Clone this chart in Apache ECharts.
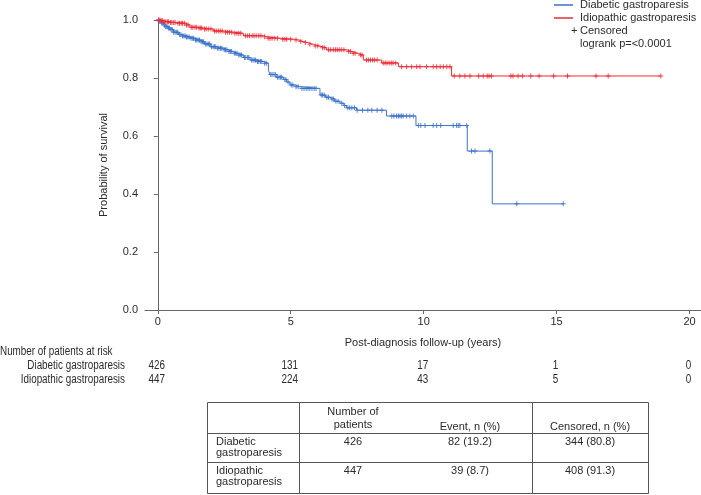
<!DOCTYPE html>
<html><head><meta charset="utf-8">
<script src="https://cdn.jsdelivr.net/npm/echarts@6/dist/echarts.min.js"></script>
<style>html,body{margin:0;padding:0;background:#fff}#c{width:701px;height:495px}</style>
</head><body><div id="c"></div>
<script>
// ---- data ----
const groupNames = ['Diabetic gastroparesis', 'Idiopathic gastroparesis'];
const blueTimes = [0, 0.05, 0.12, 0.21, 0.3, 0.38, 0.46, 0.6, 0.78, 0.9, 1.05, 1.21, 1.4, 1.59, 1.75, 1.97, 2.2, 2.47, 2.65, 2.84, 3.0, 3.22, 3.47, 3.7, 3.97, 4.16, 4.22, 4.45, 4.72, 4.85, 4.97, 5.15, 5.35, 6.10, 6.3, 6.48, 6.65, 6.85, 7.0, 7.1, 7.48, 8.6, 9.71, 11.64, 12.58];
const blueSurv  = [1.0, 0.995, 0.99, 0.983, 0.977, 0.972, 0.966, 0.958, 0.950, 0.945, 0.941, 0.937, 0.931, 0.925, 0.917, 0.908, 0.903, 0.897, 0.891, 0.885, 0.879, 0.871, 0.862, 0.857, 0.851, 0.828, 0.812, 0.803, 0.795, 0.786, 0.776, 0.770, 0.764, 0.741, 0.734, 0.728, 0.720, 0.713, 0.705, 0.697, 0.689, 0.669, 0.636, 0.548, 0.366];
const blueEnd = 15.25;
const blueCensor = [0.03,0.08,0.15,0.19,0.25,0.3,0.35,0.4,0.44,0.5,0.55,0.6,0.65,0.7,0.75,0.82,0.87,0.93,0.98,1.03,1.08,1.13,1.18,1.25,1.3,1.35,1.42,1.47,1.52,1.57,1.63,1.68,1.72,1.8,1.85,1.9,1.95,2.02,2.08,2.13,2.18,2.25,2.3,2.36,2.41,2.5,2.55,2.6,2.68,2.73,2.78,2.88,2.93,2.98,3.05,3.1,3.15,3.26,3.31,3.38,3.42,3.52,3.58,3.63,3.68,3.75,3.8,3.86,3.91,4.02,4.08,4.25,4.3,4.37,4.42,4.5,4.56,4.62,4.66,4.78,4.82,4.9,5.02,5.08,5.2,5.28,5.42,5.5,5.58,5.65,5.72,5.8,5.88,5.95,6.15,6.2,6.26,6.36,6.42,6.55,6.6,6.7,6.78,6.92,7.03,7.15,7.22,7.3,7.4,7.5,7.7,7.9,8.05,8.25,8.43,8.8,8.88,8.98,9.05,9.11,9.17,9.23,9.36,9.48,9.61,9.8,9.89,10.05,10.36,10.49,10.64,11.11,11.24,11.3,11.36,11.62,11.8,11.93,12.49,13.5,15.25];

const redTimes = [0, 0.1, 0.21, 0.45, 0.71, 1.03, 1.21, 1.5, 1.71, 2.09, 2.5, 2.84, 3.22, 3.97, 4.1, 4.6, 5.1, 5.3, 5.47, 5.65, 5.85, 6.1, 6.35, 7.1, 7.3, 7.54, 7.73, 8.42, 9.05, 11.05];
const redSurv  = [1.0, 0.997, 0.994, 0.991, 0.989, 0.983, 0.975, 0.972, 0.969, 0.962, 0.958, 0.954, 0.946, 0.942, 0.937, 0.934, 0.931, 0.926, 0.922, 0.916, 0.910, 0.904, 0.897, 0.891, 0.885, 0.879, 0.862, 0.852, 0.839, 0.807];
const redEnd = 18.92;
const redCensor = [0.03,0.08,0.13,0.18,0.24,0.3,0.36,0.4,0.48,0.53,0.6,0.65,0.76,0.82,0.88,0.93,1.0,1.08,1.14,1.26,1.32,1.4,1.45,1.55,1.6,1.65,1.76,1.82,1.9,2.0,2.14,2.2,2.28,2.35,2.42,2.55,2.62,2.7,2.78,2.9,2.98,3.05,3.12,3.3,3.38,3.45,3.55,3.62,3.7,3.8,3.88,4.02,4.15,4.22,4.3,4.4,4.5,4.7,4.78,4.85,5.0,5.2,5.38,5.55,5.72,5.92,6.02,6.2,6.28,6.42,6.5,6.6,6.68,6.75,6.82,6.9,7.0,7.18,7.25,7.35,7.42,7.62,7.68,7.85,7.92,8.0,8.08,8.15,8.25,8.48,8.55,8.62,8.7,8.78,8.85,8.95,9.17,9.36,9.55,9.74,9.86,10.11,10.36,10.49,10.62,10.74,10.87,10.99,11.15,11.36,11.55,11.74,12.07,12.24,12.39,12.46,12.55,13.28,13.36,13.55,13.72,14.03,14.34,14.89,15.41,16.48,16.94,18.92];

const xTicks = [0, 5, 10, 15, 20];
const riskTitle = 'Number of patients at risk';
const riskBlue = [426, 131, 17, 1, 0];
const riskRed  = [447, 224, 43, 5, 0];
const pValueText = 'logrank p=<0.0001';
const censorLabel = 'Censored';
const xAxisTitle = 'Post-diagnosis follow-up (years)';
const yAxisTitle = 'Probability of survival';

const tableHeader = ['', 'Number of\npatients', 'Event, n (%)', 'Censored, n (%)'];
const tableRowLabels = ['Diabetic\ngastroparesis', 'Idiopathic\ngastroparesis'];
const tableN = ['426', '447'];
const tableEvent = ['82 (19.2)', '39 (8.7)'];
const tableCensored = ['344 (80.8)', '408 (91.3)'];

// ---- styles ----
const BLUE = '#3b72c8', RED = '#ef2a35', TXT = '#2b2b2b', AX = '#666';
const FONT = '"Liberation Sans", Arial, sans-serif';
const PLUS = 'path://M2,0L3,0L3,2L5,2L5,3L3,3L3,5L2,5L2,3L0,3L0,2L2,2Z';

function stepData(times, surv, end) {
  const d = times.map((t, i) => [t, surv[i]]);
  d.push([end, surv[surv.length - 1]]);
  return d;
}
function survAt(times, surv, t) {
  let s = surv[0];
  for (let i = 0; i < times.length; i++) if (times[i] <= t) s = surv[i];
  return s;
}
function censorData(times, surv, cens) { return cens.map(c => [c, survAt(times, surv, c)]); }

const chart = echarts.init(document.getElementById('c'), null, {renderer: 'canvas'});
const option = {
  animation: false,
  textStyle: {fontFamily: FONT},
  grid: {left: 145, top: 20, right: 0, bottom: 185, containLabel: false},
  legend: {
    data: groupNames, orient: 'vertical', left: 554, top: -1, itemGap: 1, padding: 0,
    icon: 'rect', itemWidth: 19, itemHeight: 1.5,
    textStyle: {fontSize: 11, color: TXT, fontFamily: FONT, lineHeight: 12, padding: [0, 0, 0, 2]},
    selectedMode: false
  },
  xAxis: {
    type: 'value', min: -0.48, max: 20.43,
    axisLine: {lineStyle: {color: AX, width: 1}},
    axisTick: {show: true, length: 4, lineStyle: {color: AX}, customValues: xTicks},
    axisLabel: {customValues: xTicks, color: TXT, fontSize: 11, margin: 6, fontFamily: FONT},
    splitLine: {show: false},
    name: xAxisTitle, nameLocation: 'middle', nameGap: 27,
    nameTextStyle: {color: TXT, fontSize: 11, fontFamily: FONT}
  },
  yAxis: {
    type: 'value', min: 0, max: 1, interval: 0.2,
    axisLine: {show: true, lineStyle: {color: AX, width: 1}},
    axisTick: {show: true, length: 4, lineStyle: {color: AX}},
    axisLabel: {formatter: v => v.toFixed(1), color: TXT, fontSize: 11, margin: 7, fontFamily: FONT},
    splitLine: {show: false},
    name: yAxisTitle, nameLocation: 'middle', nameGap: 36, nameRotate: 90,
    nameTextStyle: {color: TXT, fontSize: 11, fontFamily: FONT}
  },
  series: [
    {name: groupNames[0], type: 'line', step: 'end', data: stepData(blueTimes, blueSurv, blueEnd),
     symbol: 'none', lineStyle: {color: BLUE, width: 1}, itemStyle: {color: BLUE}, z: 3},
    {name: groupNames[1], type: 'line', step: 'end', data: stepData(redTimes, redSurv, redEnd),
     symbol: 'none', lineStyle: {color: RED, width: 1}, itemStyle: {color: RED}, z: 4},
    {name: 'blueCensor', type: 'scatter', data: censorData(blueTimes, blueSurv, blueCensor),
     symbol: PLUS, symbolSize: 5, itemStyle: {color: BLUE, opacity: 0.85}, z: 3},
    {name: 'redCensor', type: 'scatter', data: censorData(redTimes, redSurv, redCensor),
     symbol: PLUS, symbolSize: 5, itemStyle: {color: RED, opacity: 0.85}, z: 4}
  ]
};
chart.setOption(option);

// ---- graphics: legend extras, risk table, summary table ----
const g = [];
function txt(x, y, s, opt, sx) {
  g.push({type: 'text', x: x, y: y, scaleX: sx || 1, silent: true,
    style: Object.assign({text: s, fill: TXT, font: '11px ' + FONT, textAlign: 'left', textVerticalAlign: 'middle'}, opt || {})});
}
function line(x1, y1, x2, y2) {
  g.push({type: 'line', silent: true, shape: {x1: x1, y1: y1, x2: x2, y2: y2}, style: {stroke: '#555', lineWidth: 1}});
}
txt(571, 31, '+', {});
txt(580, 31, censorLabel, {});
txt(580, 44, pValueText, {});

// risk table (narrow lettering)
const RF = '12.5px ' + FONT, RS = 0.79;
txt(0, 352, riskTitle, {font: RF}, RS);
txt(125, 366, groupNames[0], {font: RF, textAlign: 'right'}, RS);
txt(125, 380, groupNames[1], {font: RF, textAlign: 'right'}, RS);
xTicks.forEach((t, i) => {
  const px = chart.convertToPixel({xAxisIndex: 0}, t);
  txt(px - 1, 366, String(riskBlue[i]), {font: RF, textAlign: 'center'}, RS);
  txt(px - 1, 380, String(riskRed[i]), {font: RF, textAlign: 'center'}, RS);
});

// summary table
const cx = [207.5, 299.5, 532.5, 648.5];
const ry = [402.5, 433.5, 462.5, 493.5];
ry.forEach(y => line(cx[0], y, cx[3], y));
cx.forEach(x => line(x, ry[0], x, ry[3]));
const colCenters = [null, 353, 470, 590];
txt(353, 418.5, tableHeader[1], {textAlign: 'center', lineHeight: 13});
txt(470, 427, tableHeader[2], {textAlign: 'center'});
txt(590, 427, tableHeader[3], {textAlign: 'center'});
[0, 1].forEach(r => {
  const yTop = r === 0 ? 442 : 471;
  txt(216, yTop + 5.5, tableRowLabels[r], {lineHeight: 11.5});
  txt(colCenters[1], yTop, tableN[r], {textAlign: 'center'});
  txt(colCenters[2], yTop, tableEvent[r], {textAlign: 'center'});
  txt(colCenters[3], yTop, tableCensored[r], {textAlign: 'center'});
});
chart.setOption({graphic: {elements: g}});
</script>
</body></html>
